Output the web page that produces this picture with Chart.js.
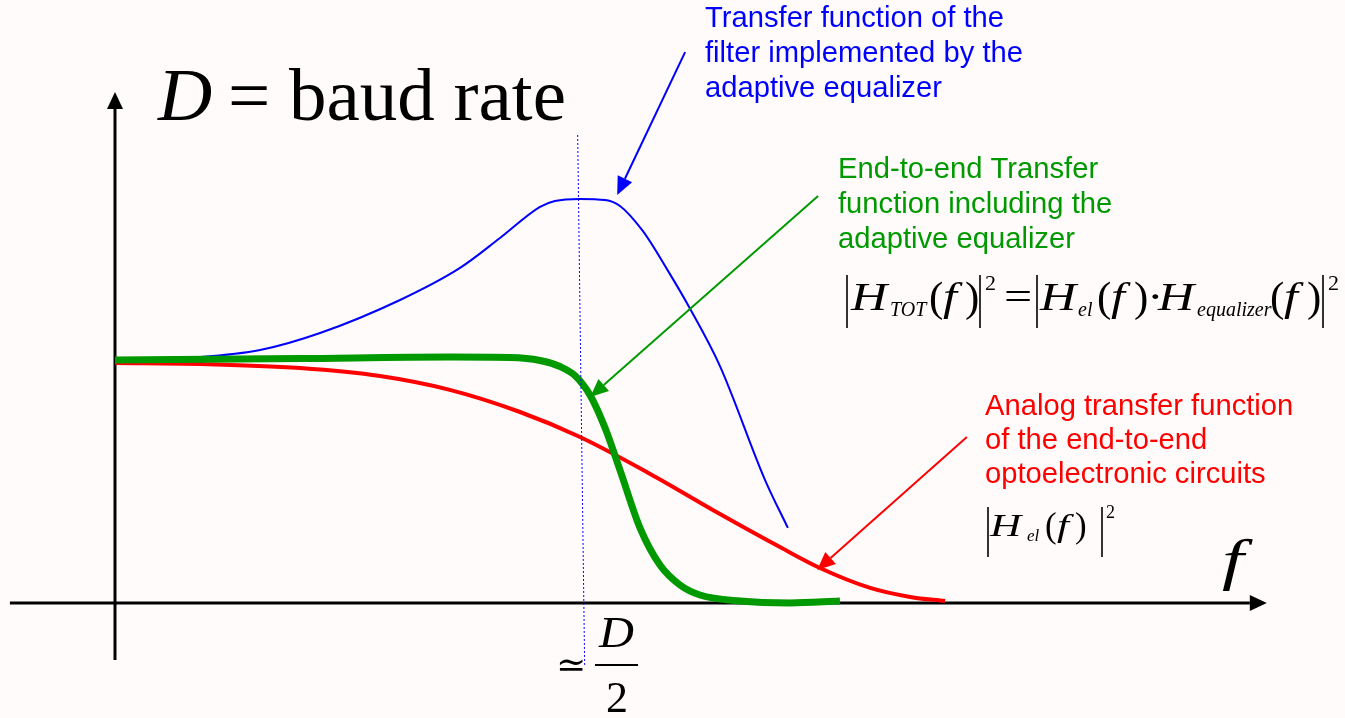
<!DOCTYPE html>
<html>
<head>
<meta charset="utf-8">
<script src="https://cdn.jsdelivr.net/npm/chart.js@4/dist/chart.umd.min.js"></script>
<style>
  html, body { margin: 0; padding: 0; background: #fffbfb; }
  #wrap { width: 1345px; height: 718px; }
</style>
</head>
<body>
<div id="wrap"><canvas id="chart"></canvas></div>
<script>
// frequency in units of D/2, gain relative to the DC level
const redFreq = [0, 0.183, 0.398, 0.570, 0.720, 0.871, 1.0, 1.151, 1.301, 1.430, 1.516, 1.624, 1.710, 1.785];
const redGain = [0.988, 0.984, 0.967, 0.934, 0.877, 0.786, 0.683, 0.531, 0.366, 0.230, 0.144, 0.062, 0.025, 0.008];

const greenFreq = [0, 0.398, 0.720, 0.850, 0.914, 0.957, 0.989, 1.022, 1.054, 1.086, 1.129, 1.172, 1.215, 1.258, 1.344, 1.452, 1.559];
const greenGain = [1.0, 1.006, 1.012, 1.010, 0.998, 0.973, 0.936, 0.854, 0.720, 0.547, 0.309, 0.156, 0.074, 0.033, 0.008, 0.0, 0.008];

const blueFreq = [0, 0.183, 0.312, 0.441, 0.613, 0.742, 0.828, 0.914, 0.946, 1.0, 1.054, 1.086, 1.135, 1.187, 1.237, 1.301, 1.398, 1.447];
const blueGain = [1.0, 1.012, 1.041, 1.111, 1.247, 1.379, 1.502, 1.630, 1.654, 1.663, 1.658, 1.634, 1.531, 1.374, 1.210, 0.975, 0.506, 0.309];

const toPoints = (xs, ys) => xs.map((x, i) => ({ x: x, y: ys[i] }));

function arrow(ctx, x1, y1, x2, y2, color, width, len, half) {
  const a = Math.atan2(y2 - y1, x2 - x1);
  const bx = x2 - len * Math.cos(a);
  const by = y2 - len * Math.sin(a);
  ctx.strokeStyle = color;
  ctx.fillStyle = color;
  ctx.lineWidth = width;
  ctx.beginPath();
  ctx.moveTo(x1, y1);
  ctx.lineTo(bx, by);
  ctx.stroke();
  ctx.beginPath();
  ctx.moveTo(x2, y2);
  ctx.lineTo(bx + half * Math.sin(a), by - half * Math.cos(a));
  ctx.lineTo(bx - half * Math.sin(a), by + half * Math.cos(a));
  ctx.closePath();
  ctx.fill();
}

// text, optionally stretched sideways like the scaled formula images
function txt(ctx, s, x, y, font, color, sx) {
  ctx.save();
  ctx.font = font;
  ctx.fillStyle = color || "#000";
  ctx.translate(x, y);
  ctx.scale(sx || 1, 1);
  ctx.fillText(s, 0, 0);
  ctx.restore();
}

function bar(ctx, x, y1, y2) {
  ctx.strokeStyle = "#000";
  ctx.lineWidth = 1.6;
  ctx.beginPath();
  ctx.moveTo(x, y1);
  ctx.lineTo(x, y2);
  ctx.stroke();
}

const SERIF = "'Liberation Serif', 'Times New Roman', serif";
const SANS = "'Liberation Sans', Arial, sans-serif";

// Axes go under the curves
const axesPlugin = {
  id: "axes",
  beforeDatasetsDraw(chart) {
    const ctx = chart.ctx;
    const xs = chart.scales.x, ys = chart.scales.y;
    ctx.save();
    arrow(ctx, xs.getPixelForValue(-0.226), ys.getPixelForValue(0),
      xs.getPixelForValue(2.477), ys.getPixelForValue(0), "#000", 3, 17, 8);
    arrow(ctx, xs.getPixelForValue(0), ys.getPixelForValue(-0.235),
      xs.getPixelForValue(0), ys.getPixelForValue(2.103), "#000", 3, 17, 8);
    ctx.restore();
  },
};

// Labels, arrows and formulas on top
const notesPlugin = {
  id: "notes",
  afterDatasetsDraw(chart) {
    const ctx = chart.ctx;
    const xs = chart.scales.x, ys = chart.scales.y;
    const P = (f, h) => [xs.getPixelForValue(f), ys.getPixelForValue(h)];
    ctx.save();

    // dotted marker at D/2
    const a = P(0.995, 1.926), b = P(1.01, -0.255);
    ctx.strokeStyle = "#0000ff";
    ctx.lineWidth = 1;
    ctx.setLineDash([2, 2]);
    ctx.beginPath();
    ctx.moveTo(a[0], a[1]);
    ctx.lineTo(b[0], b[1]);
    ctx.stroke();
    ctx.setLineDash([]);

    // pointer arrows
    let s = P(1.226, 2.267), t = P(1.080, 1.679);
    arrow(ctx, s[0], s[1], t[0], t[1], "#0000ff", 2, 18, 8);
    s = P(1.512, 1.675); t = P(1.022, 0.848);
    arrow(ctx, s[0], s[1], t[0], t[1], "#009900", 2, 18, 8);
    s = P(1.832, 0.683); t = P(1.510, 0.136);
    arrow(ctx, s[0], s[1], t[0], t[1], "#ff0000", 2, 18, 8);

    ctx.textBaseline = "alphabetic";
    ctx.textAlign = "left";

    // callout texts
    const f28 = "29.2px " + SANS;
    ["Transfer function of the", "filter implemented by the", "adaptive equalizer"]
      .forEach((l, i) => txt(ctx, l, 705, 27 + i * 35, f28, "#0000ff"));
    ["End-to-end Transfer", "function including the", "adaptive equalizer"]
      .forEach((l, i) => txt(ctx, l, 838, 178 + i * 35, f28, "#009900"));
    ["Analog transfer function", "of the end-to-end", "optoelectronic circuits"]
      .forEach((l, i) => txt(ctx, l, 985, 415 + i * 34, f28, "#ff0000"));

    // title
    txt(ctx, "D", 158, 120, "italic 75px " + SERIF);
    txt(ctx, "=", 228, 120, "75px " + SERIF);
    txt(ctx, "baud rate", 289, 120, "75px " + SERIF);

    // axis label f
    txt(ctx, "f", 1222, 579, "italic 58px " + SERIF, "#000", 1.35);

    // ~ D/2
    txt(ctx, "\u2243", 556, 677, "36px 'DejaVu Serif', serif");
    txt(ctx, "D", 599, 647, "italic 44px " + SERIF, "#000", 1.1);
    txt(ctx, "2", 606, 712, "44px " + SERIF);
    ctx.strokeStyle = "#000";
    ctx.lineWidth = 2;
    ctx.beginPath();
    ctx.moveTo(595, 665);
    ctx.lineTo(638, 665);
    ctx.stroke();

    // |H_TOT(f)|^2 = |H_el(f) . H_equalizer(f)|^2
    const I40 = "italic 40px " + SERIF, R40 = "40px " + SERIF;
    const I20 = "italic 20px " + SERIF, R22 = "22px " + SERIF;
    const R42 = "43px " + SERIF;
    const k = 1.25;
    bar(ctx, 847, 275, 328);
    txt(ctx, "H", 851, 310, I40, "#000", k);
    txt(ctx, "TOT", 890, 316, I20);
    txt(ctx, "(", 929, 311, R42);
    txt(ctx, "f", 943, 310, I40, "#000", k);
    txt(ctx, ")", 965, 311, R42);
    bar(ctx, 980, 275, 328);
    txt(ctx, "2", 985, 290, R22);
    txt(ctx, "=", 1004, 310, R40, "#000", k);
    bar(ctx, 1037, 275, 328);
    txt(ctx, "H", 1040, 310, I40, "#000", k);
    txt(ctx, "el", 1078, 316, I20);
    txt(ctx, "(", 1097, 311, R42);
    txt(ctx, "f", 1111, 310, I40, "#000", k);
    txt(ctx, ")", 1134, 311, R42);
    txt(ctx, "\u00b7", 1147, 310, R40, "#000", k);
    txt(ctx, "H", 1158, 310, I40, "#000", k);
    txt(ctx, "equalizer", 1197, 316, I20);
    txt(ctx, "(", 1270, 311, R42);
    txt(ctx, "f", 1284, 310, I40, "#000", k);
    txt(ctx, ")", 1307, 311, R42);
    bar(ctx, 1323, 275, 328);
    txt(ctx, "2", 1328, 290, R22);

    // |H_el(f)|^2
    const I32 = "italic 32px " + SERIF, R34 = "35px " + SERIF;
    const k2 = 1.35;
    bar(ctx, 988, 507, 557);
    txt(ctx, "H", 990, 536, I32, "#000", k2);
    txt(ctx, "el", 1027, 541, "italic 17px " + SERIF);
    txt(ctx, "(", 1045, 537, R34);
    txt(ctx, "f", 1057, 536, I32, "#000", k2);
    txt(ctx, ")", 1075, 537, R34);
    bar(ctx, 1102, 507, 557);
    txt(ctx, "2", 1106, 518, "18px " + SERIF);

    ctx.restore();
  },
};

new Chart(document.getElementById("chart"), {
  type: "line",
  data: {
    datasets: [
      {
        label: "End-to-end transfer function",
        data: toPoints(greenFreq, greenGain),
        borderColor: "#009900",
        borderWidth: 7,
      },
      {
        label: "Analog transfer function",
        data: toPoints(redFreq, redGain),
        borderColor: "#ff0000",
        borderWidth: 4,
      },
      {
        label: "Adaptive equalizer",
        data: toPoints(blueFreq, blueGain),
        borderColor: "#0000ff",
        borderWidth: 2,
      },
    ],
  },
  options: {
    responsive: true,
    maintainAspectRatio: false,
    animation: false,
    layout: { padding: 0 },
    elements: {
      point: { radius: 0 },
      line: { cubicInterpolationMode: "monotone", fill: false, borderCapStyle: "butt" },
    },
    datasets: { line: { clip: false } },
    scales: {
      x: { type: "linear", min: -0.24731, max: 2.64516, display: false },
      y: { type: "linear", min: -0.47325, max: 2.48148, display: false },
    },
    plugins: {
      legend: { display: false },
      tooltip: { enabled: false },
    },
  },
  plugins: [axesPlugin, notesPlugin],
});
</script>
</body>
</html>
